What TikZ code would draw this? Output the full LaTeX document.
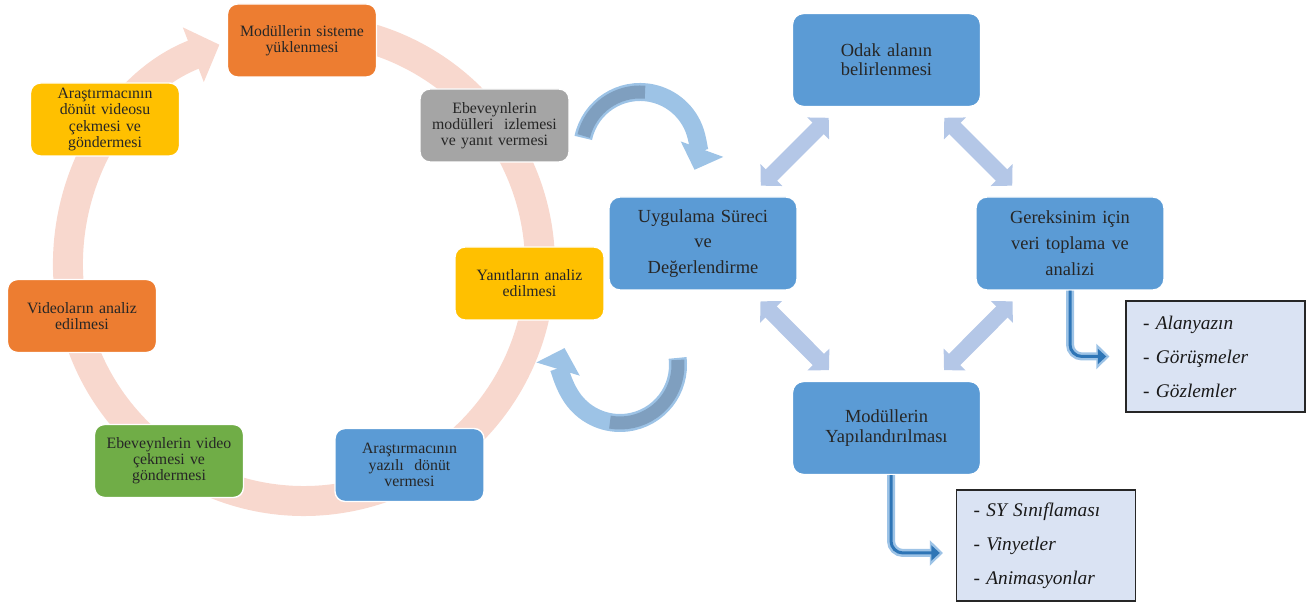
\documentclass[tikz,border=0pt]{standalone}
\usepackage{fontspec}
\setmainfont{Liberation Serif}
\usetikzlibrary{arrows.meta,positioning}

\definecolor{ringpink}{RGB}{248,216,206}
\definecolor{boxorange}{RGB}{237,125,49}
\definecolor{boxyellow}{RGB}{255,192,0}
\definecolor{boxgray}{RGB}{165,165,165}
\definecolor{boxgreen}{RGB}{112,173,71}
\definecolor{boxblue}{RGB}{91,155,213}
\definecolor{pale}{RGB}{180,199,231}
\definecolor{arclight}{RGB}{157,195,230}
\definecolor{arcdark}{RGB}{127,159,191}
\definecolor{listfill}{RGB}{218,227,243}
\definecolor{bentdark}{RGB}{46,117,182}

\begin{document}
\begin{tikzpicture}[x=0.02cm,y=0.02cm,
  cyc/.style={rounded corners=0.2cm, draw=white, line width=0.8pt, minimum width=2.98cm, minimum height=1.46cm,
    text width=2.8cm, align=center, inner sep=0pt, text=black!85, font=\fontsize{9}{9.2}\selectfont},
  bigbox/.style={rounded corners=0.22cm, fill=boxblue, draw=white, line width=0.8pt, minimum width=3.76cm,
    minimum height=1.86cm, text width=3.5cm, align=center, inner sep=0pt, text=black!85, font=\fontsize{10.5}{11}\selectfont},
  tallbox/.style={bigbox, font=\fontsize{10.5}{14.7}\selectfont},
  listbox/.style={fill=listfill, draw=black!85, line width=0.8pt, minimum height=2.22cm, text width=2.9cm,
    inner xsep=0.34cm, align=left, text=black!90, font=\fontsize{11}{19.3}\selectfont\itshape},
  dbl/.style={pale, line width=0.32cm, {Triangle[width=0.6cm,length=0.3cm]}-{Triangle[width=0.6cm,length=0.3cm]},
    shorten <=0.3cm, shorten >=0.3cm},
  curvarr/.style={arclight, line width=0.36cm, -{Triangle[width=0.88cm,length=0.44cm]}},
  curvdark/.style={arcdark, line width=0.26cm},
  bentout/.style={arclight, line width=0.16cm, rounded corners=0.24cm, -{Triangle[width=0.5cm,length=0.26cm]}},
  bentin/.style={bentdark, line width=0.06cm, rounded corners=0.24cm, -{Triangle[width=0.3cm,length=0.17cm]}}
]
\useasboundingbox (0,0) rectangle (1316,604);

% cycle ring
\coordinate (ringc) at (304,339);
\draw[ringpink, line width=0.6cm, -{Triangle[width=1.14cm,length=0.56cm]}]
  (ringc) ++(100:236) arc[start angle=100, end angle=-249, radius=236];

\node[cyc, fill=boxorange] (yukle) at (302,563.5) {Modüllerin sisteme\\yüklenmesi};
\node[cyc, fill=boxgray] (izle) at (494.5,478.5) {Ebeveynlerin\\modülleri\ \ izlemesi\\ve yanıt vermesi};
\node[cyc, fill=boxyellow] (yanit) at (529.5,320.5) {Yanıtların analiz\\edilmesi};
\node[cyc, fill=boxblue] (yazili) at (409.5,139) {Araştırmacının\\yazılı\ \ dönüt\\vermesi};
\node[cyc, fill=boxgreen] (cekim) at (169,143) {Ebeveynlerin video\\çekmesi ve\\göndermesi};
\node[cyc, fill=boxorange] (vanaliz) at (82,288) {Videoların analiz\\edilmesi};
\node[cyc, fill=boxyellow] (donut) at (105,484.5) {Araştırmacının\\dönüt videosu\\çekmesi ve\\göndermesi};

% curved arrows
\coordinate (upc) at (640,454);
\draw[curvarr] (upc) ++(168:58) arc[start angle=168, end angle=-20, radius=58];
\draw[curvdark] (upc) ++(166:58) arc[start angle=166, end angle=85, radius=58];

\coordinate (loc) at (620,239);
\draw[curvarr] (loc) ++(7:58) arc[start angle=7, end angle=-197, radius=58];
\draw[curvdark] (loc) ++(5:58) arc[start angle=5, end angle=-100, radius=58];

% design cycle
\node[bigbox] (odak) at (886.5,544) {Odak alanın\\belirlenmesi};
\node[tallbox] (uyg) at (703,360.5) {Uygulama Süreci\\ve\\Değerlendirme};
\node[tallbox] (gerek) at (1070,360.5) {Gereksinim için\\veri toplama ve\\analizi};
\node[bigbox] (yapi) at (886.5,176) {Modüllerin\\Yapılandırılması};

\draw[dbl] (uyg) -- (odak);
\draw[dbl] (odak) -- (gerek);
\draw[dbl] (uyg) -- (yapi);
\draw[dbl] (gerek) -- (yapi);

\node[listbox] (kaynak) at (1215.5,247.5) {- Alanyazın\\- Görüşmeler\\- Gözlemler};
\node[listbox] (icerik) at (1046,58.5) {- SY Sınıflaması\\- Vinyetler\\- Animasyonlar};

\draw[bentout, shorten >=0.32cm] (gerek.south) |- (kaynak.west);
\draw[bentin, shorten >=0.38cm] (gerek.south) |- (kaynak.west);
\draw[bentout, shorten >=0.26cm] ([xshift=0.09cm]yapi.south) |- ([yshift=-0.15cm]icerik.west);
\draw[bentin, shorten >=0.32cm] ([xshift=0.09cm]yapi.south) |- ([yshift=-0.15cm]icerik.west);

\end{tikzpicture}
\end{document}
